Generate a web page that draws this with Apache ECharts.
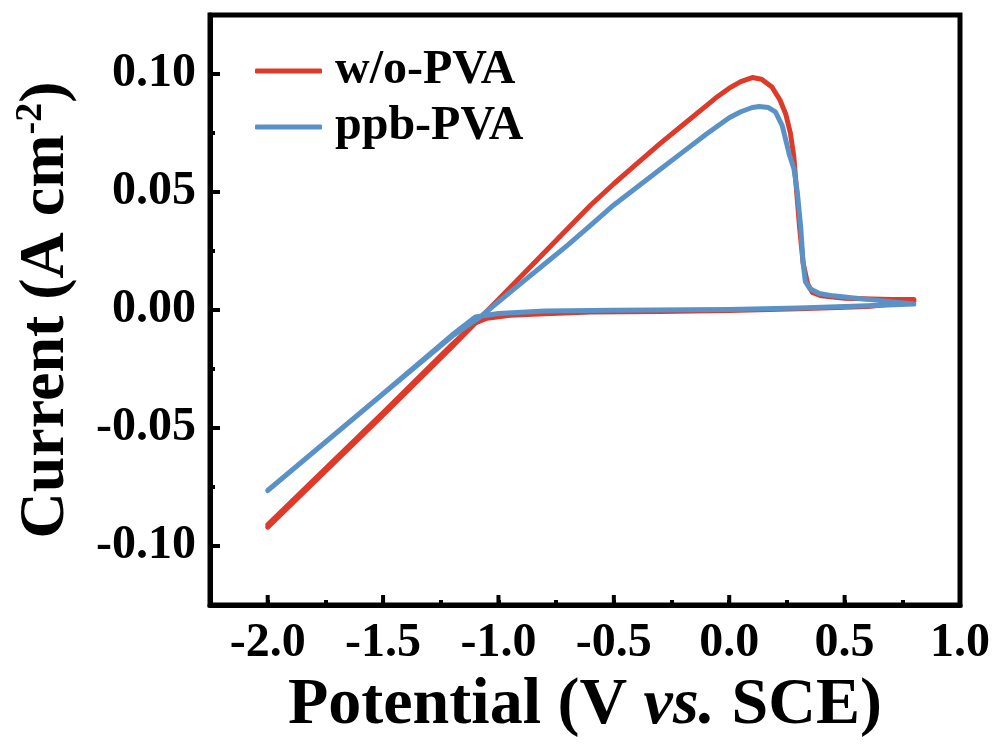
<!DOCTYPE html>
<html>
<head>
<meta charset="utf-8">
<script src="https://cdn.jsdelivr.net/npm/echarts@6/dist/echarts.min.js"></script>
<style>
html,body{margin:0;padding:0;background:#fff;}
#chart{width:997px;height:753px;}
</style>
</head>
<body>
<div id="chart"></div>
<script>
// ---- data ----
var seriesNames = ['w/o-PVA', 'ppb-PVA'];

// w/o-PVA : potential (V vs. SCE), current (A cm^-2) — full CV loop
var woPVA_x = [-2.0, -1.5, -1.2, -1.1, -1.05, -0.95, -0.8, -0.6, -0.3, 0.0, 0.3, 0.6, 0.8,
               0.8, 0.7, 0.5, 0.4, 0.36, 0.34, 0.32, 0.305, 0.293, 0.28, 0.265, 0.245, 0.22, 0.185, 0.14, 0.1, 0.05, 0.0, -0.05, -0.1, -0.2, -0.3, -0.4, -0.5, -0.6, -0.8, -1.0, -1.09, -1.2, -1.5, -2.0];
var woPVA_y = [-0.092, -0.0445, -0.0155, -0.0055, -0.0035, -0.0022, -0.0016, -0.0009, -0.0006, -0.0002, 0.0005, 0.0015, 0.0035,
               0.0045, 0.0045, 0.005, 0.006, 0.0075, 0.011, 0.02, 0.035, 0.049, 0.065, 0.075, 0.083, 0.089, 0.0945, 0.0978, 0.0985, 0.0968, 0.094, 0.0905, 0.0865, 0.0785, 0.0705, 0.062, 0.0535, 0.0445, 0.0245, 0.0045, -0.0045, -0.0145, -0.0435, -0.091];

// ppb-PVA
var ppbPVA_x = [-2.0, -1.5, -1.2, -1.1, -1.0, -0.8, -0.5, 0.0, 0.3, 0.6, 0.8,
                0.8, 0.6, 0.45, 0.39, 0.35, 0.33, 0.32, 0.31, 0.295, 0.28, 0.26, 0.23, 0.2, 0.17, 0.13, 0.1, 0.05, 0.0, -0.1, -0.2, -0.3, -0.4, -0.5, -0.6, -0.7, -0.8, -0.9, -1.0, -1.08, -1.2, -1.5, -2.0];
var ppbPVA_y = [-0.0765, -0.0355, -0.0105, -0.003, -0.0015, -0.0004, -0.0001, 0.0002, 0.0008, 0.0018, 0.0025,
                0.003, 0.0045, 0.006, 0.007, 0.009, 0.012, 0.02, 0.035, 0.05, 0.06, 0.066, 0.078, 0.084, 0.0858, 0.0862, 0.0858, 0.084, 0.0815, 0.0745, 0.067, 0.0595, 0.052, 0.0445, 0.036, 0.0275, 0.0195, 0.0115, 0.0035, -0.003, -0.011, -0.0355, -0.0765];

// axis tick positions (quarter steps across the frame) and the labelled major ticks
var xTickPositions = ['-2.25', '-2.00', '-1.75', '-1.50', '-1.25', '-1.00', '-0.75', '-0.50', '-0.25', '0.00', '0.25', '0.50', '0.75', '1.00'];
var yTickPositions = ['-0.125', '-0.100', '-0.075', '-0.050', '-0.025', '0.000', '0.025', '0.050', '0.075', '0.100', '0.125'];
var xMajorTicks = [-2.0, -1.5, -1.0, -0.5, 0.0, 0.5, 1.0];
var yMajorTicks = [-0.10, -0.05, 0.00, 0.05, 0.10];
var xMin = -2.25, xMax = 1.0, yMin = -0.125, yMax = 0.125;

// ---- chart ----
function zip(xs, ys){ var out=[]; for (var i=0;i<xs.length;i++) out.push([xs[i], ys[i]]); return out; }
function xLabelOf(v){ return Number(v).toFixed(1); }
function yLabelOf(v){ return Number(v).toFixed(2); }
function isMajor(i){ return i % 2 === 1; }

var FONT = "'Times New Roman', 'Liberation Serif', serif";
var TICK_MAJOR = 10, TICK_W = 4;
var chart = echarts.init(document.getElementById('chart'), null, {renderer:'canvas'});

var option = {
  animation: false,
  backgroundColor: '#ffffff',
  grid: { left: 210, right: 37, top: 15, bottom: 148, show: true, borderColor: '#000', borderWidth: 5, backgroundColor: 'transparent', outerBoundsMode: 'none' },
  legend: {
    orient: 'vertical', left: 250, top: 42, itemGap: 8,
    itemWidth: 67, itemHeight: 5, icon: 'roundRect',
    textStyle: { fontFamily: FONT, fontWeight: 'bold', fontSize: 48, color: '#000', padding: [0,0,0,8] },
    data: seriesNames
  },
  xAxis: [{
    type: 'value', min: xMin, max: xMax, interval: 0.25, position: 'bottom',
    axisLine: { show: true, onZero: false, lineStyle: { color: '#000', width: 5 } },
    axisTick: { show: true, inside: true, length: 5, lineStyle: { width: TICK_W, color: '#000' } },
    axisLabel: { show: false }, splitLine: { show: false }
  }, {
    type: 'category', data: xTickPositions, boundaryGap: false, position: 'bottom',
    axisLine: { show: false, onZero: false },
    axisTick: { show: false },
    axisLabel: { interval: isMajor, formatter: xLabelOf,
      fontFamily: FONT, fontWeight: 'bold', fontSize: 48, color: '#000', margin: 15 },
    splitLine: { show: false },
    name: '{a|Potential (V }{b|vs.}{a| SCE)}',
    nameLocation: 'middle', nameGap: 66,
    nameTextStyle: { rich: {
      a: { fontFamily: FONT, fontWeight: 'bold', fontSize: 66, color: '#000' },
      b: { fontFamily: FONT, fontWeight: 'bold', fontStyle: 'italic', fontSize: 66, color: '#000' }
    } }
  }],
  yAxis: [{
    type: 'value', min: yMin, max: yMax, interval: 0.025, position: 'left',
    axisLine: { show: true, onZero: false, lineStyle: { color: '#000', width: 5 } },
    axisTick: { show: true, inside: true, length: 5, lineStyle: { width: TICK_W, color: '#000' } },
    axisLabel: { show: false }, splitLine: { show: false }
  }, {
    type: 'category', data: yTickPositions, boundaryGap: false, position: 'left',
    axisLine: { show: false, onZero: false },
    axisTick: { show: false },
    axisLabel: { interval: isMajor, formatter: yLabelOf,
      fontFamily: FONT, fontWeight: 'bold', fontSize: 48, color: '#000', margin: 14 },
    splitLine: { show: false },
    name: '{a|Current (A cm}{s|-2}{a|)}',
    nameLocation: 'middle', nameRotate: 90, nameGap: 130,
    nameTextStyle: { rich: {
      a: { fontFamily: FONT, fontWeight: 'bold', fontSize: 64, color: '#000' },
      s: { fontFamily: FONT, fontWeight: 'bold', fontSize: 38, color: '#000', verticalAlign: 'top', padding: [0,0,30,0] }
    } }
  }],
  series: [{
    name: seriesNames[0], type: 'line', xAxisIndex: 0, yAxisIndex: 0,
    data: zip(woPVA_x, woPVA_y), showSymbol: false, symbol: 'none',
    lineStyle: { color: '#DD3A2A', width: 5, join: 'round', cap: 'round' },
    itemStyle: { color: '#DD3A2A' }
  }, {
    name: seriesNames[1], type: 'line', xAxisIndex: 0, yAxisIndex: 0,
    data: zip(ppbPVA_x, ppbPVA_y), showSymbol: false, symbol: 'none',
    lineStyle: { color: '#5A92C7', width: 5, join: 'round', cap: 'round' },
    itemStyle: { color: '#5A92C7' }
  }, {
    // major ticks on the bottom frame (inside), placed through the axis scales
    name: 'xMajorTicks', type: 'scatter', xAxisIndex: 0, yAxisIndex: 0, silent: true, clip: false, z: 3,
    data: xMajorTicks.map(function(v){ return [v, yMin]; }),
    symbol: 'rect', symbolSize: [TICK_W, TICK_MAJOR], symbolOffset: [0, -TICK_MAJOR / 2],
    itemStyle: { color: '#000', opacity: 1 }
  }, {
    // major ticks on the left frame (inside)
    name: 'yMajorTicks', type: 'scatter', xAxisIndex: 0, yAxisIndex: 0, silent: true, clip: false, z: 3,
    data: yMajorTicks.map(function(v){ return [xMin, v]; }),
    symbol: 'rect', symbolSize: [TICK_MAJOR, TICK_W], symbolOffset: [TICK_MAJOR / 2, 0],
    itemStyle: { color: '#000', opacity: 1 }
  }]
};
chart.setOption(option);
</script>
</body>
</html>
